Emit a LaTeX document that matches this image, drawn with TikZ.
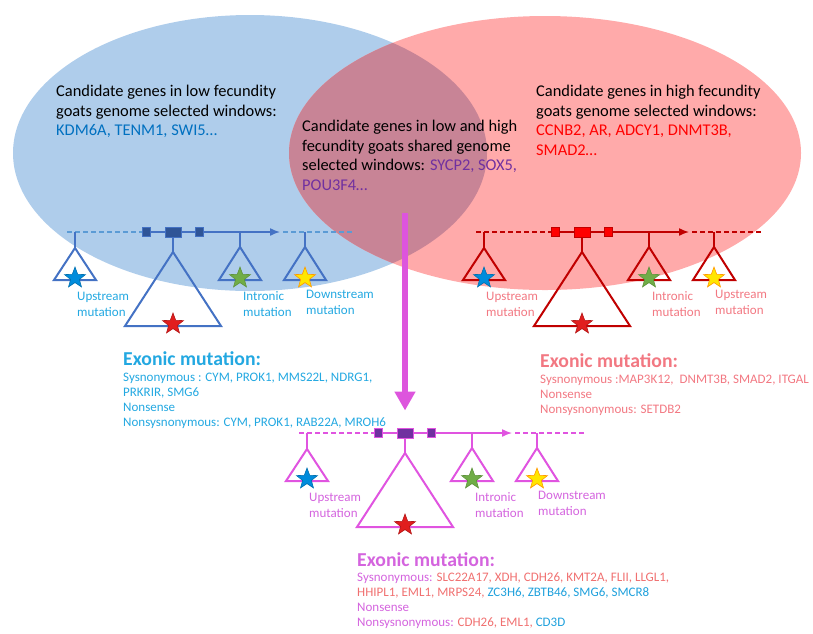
\documentclass[tikz,border=0pt]{standalone}
\usepackage{fontspec}
\setmainfont{Carlito}
\usetikzlibrary{arrows.meta,positioning,shapes.geometric}
\definecolor{blobblue}{RGB}{175,205,235}
\definecolor{blobred}{RGB}{255,170,170}
\definecolor{blobmix}{RGB}{200,132,150}
\definecolor{lowline}{RGB}{68,114,196}
\definecolor{lowdash}{RGB}{91,155,213}
\definecolor{lowbox}{RGB}{47,85,151}
\definecolor{lowlabel}{RGB}{35,168,225}
\definecolor{lowgene}{RGB}{0,112,192}
\definecolor{highline}{RGB}{192,0,0}
\definecolor{highbox}{RGB}{255,0,0}
\definecolor{highlabel}{RGB}{242,120,130}
\definecolor{highgene}{RGB}{255,0,0}
\definecolor{shareline}{RGB}{224,84,224}
\definecolor{sharebox}{RGB}{112,48,160}
\definecolor{sharelabel}{RGB}{212,100,222}
\definecolor{sharegene}{RGB}{112,48,160}
\definecolor{salmongene}{RGB}{240,112,112}
\definecolor{cyangene}{RGB}{30,160,220}
\definecolor{bigarrow}{RGB}{221,85,221}
\definecolor{starblue}{RGB}{0,140,220}
\definecolor{stargreen}{RGB}{112,173,71}
\definecolor{staryellow}{RGB}{255,230,0}
\definecolor{starred}{RGB}{225,30,30}

\tikzset{
  geneline/.style={line width=1.5pt},
  genedash/.style={line width=1.5pt, dash pattern=on 5pt off 3pt},
  genetri/.style={line width=2pt, line join=miter},
  exonbox/.style={rectangle, draw, line width=1pt, inner sep=0pt, minimum width=8pt, minimum height=9pt},
  mutstar/.style={star, star points=5, star point ratio=2.4, minimum size=22pt, inner sep=0pt, line width=0.6pt},
  mutlabel/.style={anchor=north west, align=left, inner sep=0pt, font=\fontsize{13}{16}\selectfont},
  bodytext/.style={anchor=north west, align=left, inner sep=0pt, font=\fontsize{16.4}{19.5}\selectfont},
  exonhead/.style={anchor=north west, inner sep=0pt, font=\fontsize{19.7}{22}\selectfont\bfseries},
  exonlist/.style={align=left, inner sep=0pt, font=\fontsize{13}{15.2}\selectfont},
  pics/genemodel/.style n args={5}{code={
    \coordinate (-start) at (-8,0);
    \coordinate (-up) at (0,0);
    \coordinate (-intron) at (165,0);
    \coordinate (-tip) at (205,0);
    \coordinate (-dash) at (208,0);
    \coordinate (-down) at (230,0);
    \coordinate (-stop) at (277,0);
    \node[exonbox, draw=#1, fill=#3] (-e1) at (71,0) {};
    \node[exonbox, draw=#1, fill=#3, minimum width=16pt, minimum height=10pt] (-e2) at (98,0) {};
    \node[exonbox, draw=#1, fill=#3] (-e3) at (124,0) {};
    \draw[genedash, #2] (-start) -- (-e1.west);
    \draw[geneline, #1] (-e1.east) -- (-e2.west) (-e2.east) -- (-e3.west);
    \draw[geneline, #1, -{Latex[length=10pt, width=8pt]}] (-e3.east) -- (-tip);
    \draw[genedash, #2] (-dash) -- (-stop);
    % stems and triangles
    \coordinate (-a2) at (98,20);
    \draw[geneline, #1] (-up) -- ++(0,16) coordinate (-a1);
    \draw[geneline, #1] (-e2.south) -- (-a2);
    \draw[geneline, #1] (-intron) -- ++(0,15) coordinate (-a3);
    \draw[geneline, #1] (-down) -- ++(0,15) coordinate (-a4);
    \draw[genetri, #1] (-a1) -- ++(-21,32) -- ++(42,0) -- cycle;
    \draw[genetri, #1] (-a2) -- ++(-48,74) -- ++(96,0) -- cycle;
    \draw[genetri, #1] (-a3) -- ++(-21,33) -- ++(42,0) -- cycle;
    \draw[genetri, #1] (-a4) -- ++(-21,33) -- ++(42,0) -- cycle;
    % mutations
    \node[mutstar, fill=starblue, draw=starblue!80!black] (-s1) at (0,46) {};
    \node[mutstar, fill=starred, draw=starred!80!black] (-s2) at (98,92) {};
    \node[mutstar, fill=stargreen, draw=stargreen!85!black] (-s3) at (165,46) {};
    \node[mutstar, fill=staryellow, draw=orange!80!yellow] (-s4) at (230,46) {};
    \node[mutlabel, text=#4] (-l1) at (2,60) {Upstream\\mutation};
    \node[mutlabel, text=#4] (-l3) at (168,59) {Intronic\\mutation};
    \node[mutlabel, text=#4] (-l4) at (231,58) {#5\\mutation};
  }}
}

\begin{document}
\begin{tikzpicture}[x=1pt, y=-1pt, >=Latex]
\useasboundingbox (0,0) rectangle (813,633);
% selected windows of the two groups
\fill[blobblue] (250,153) ellipse [x radius=237pt, y radius=138pt];
\fill[blobred] (545,153) ellipse [x radius=256pt, y radius=137pt];
\begin{scope}
  \clip (250,153) ellipse [x radius=237pt, y radius=138pt];
  \fill[blobmix] (545,153) ellipse [x radius=256pt, y radius=137pt];
\end{scope}

\node[bodytext] (lowtxt) at (56,85) {Candidate genes in low fecundity\\goats genome selected windows:\\\textcolor{lowgene}{KDM6A, TENM1, SWI5…}};
\node[bodytext] (sharetxt) at (302,120) {Candidate genes in low and high\\fecundity goats shared genome\\selected windows: \textcolor{sharegene}{SYCP2, SOX5,}\\\textcolor{sharegene}{POU3F4…}};
\node[bodytext] (hightxt) at (536,85) {Candidate genes in high fecundity\\goats genome selected windows:\\\textcolor{highgene}{CCNB2, AR, ADCY1, DNMT3B,}\\\textcolor{highgene}{SMAD2…}};

% gene models
\pic (l) at (75,232) {genemodel={lowline}{lowdash}{lowbox}{lowlabel}{Downstream}};
\pic (h) at (484,232) {genemodel={highline}{highline}{highbox}{highlabel}{Upstream}};
\pic (s) at (307,433) {genemodel={shareline}{shareline}{sharebox}{sharelabel}{Downstream}};

\coordinate (arrtop) at (405,213);
\draw[-{Triangle[length=19pt, width=20pt]}, line width=5.5pt, bigarrow] (arrtop) -- ([yshift=17pt]s-e2.north);

% exonic mutations
\node[exonhead, text=lowlabel] (lowhead) at (123,351) {Exonic mutation:};
\node[exonlist, text=lowlabel, below right=7pt and 0pt of lowhead.south west] (lowlist) {Sysnonymous : CYM, PROK1, MMS22L, NDRG1,\\PRKRIR, SMG6\\Nonsense\\Nonsysnonymous: CYM, PROK1, RAB22A, MROH6};
\node[exonhead, text=highlabel] (highhead) at (540,353) {Exonic mutation:};
\node[exonlist, text=highlabel, below right=7pt and 0pt of highhead.south west] (highlist) {Sysnonymous :MAP3K12,\ \ DNMT3B, SMAD2, ITGAL\\Nonsense\\Nonsysnonymous: SETDB2};
\node[exonhead, text=sharelabel] (sharehead) at (357,552) {Exonic mutation:};
\node[exonlist, text=sharelabel, below right=6pt and 0pt of sharehead.south west] (sharelist) {Sysnonymous: \textcolor{salmongene}{SLC22A17, XDH, CDH26, KMT2A, FLII, LLGL1,}\\\textcolor{salmongene}{HHIPL1, EML1, MRPS24,} \textcolor{cyangene}{ZC3H6, ZBTB46, SMG6, SMCR8}\\Nonsense\\Nonsysnonymous: \textcolor{salmongene}{CDH26, EML1,} \textcolor{cyangene}{CD3D}};
\end{tikzpicture}
\end{document}
